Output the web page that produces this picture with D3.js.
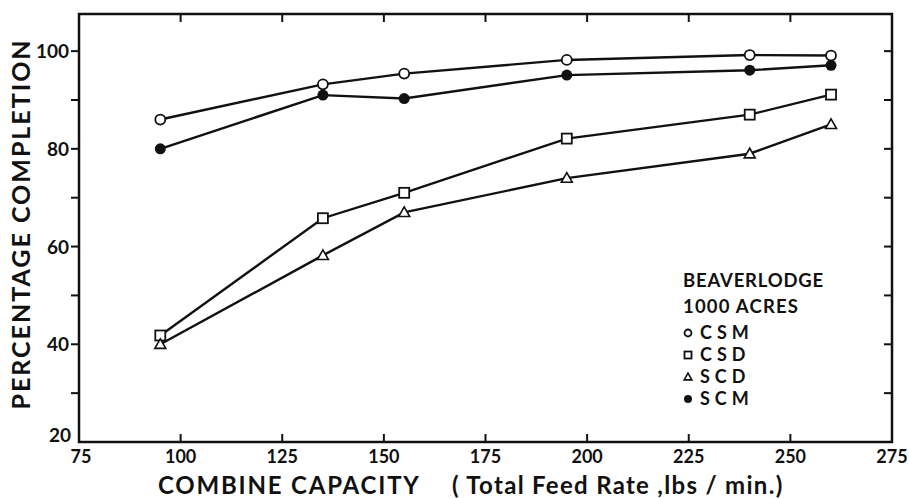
<!DOCTYPE html>
<html>
<head>
<meta charset="utf-8">
<script src="https://cdn.jsdelivr.net/npm/d3@7"></script>
<style>
  body { margin: 0; background: #fff; }
  svg text { font-family: Lato, "DejaVu Sans", sans-serif; font-weight: 700; fill: #111; }
</style>
</head>
<body>
<svg id="chart" width="909" height="498"></svg>
<script>
// feed rates (lbs/min) where each run was measured
let feedRates = [95, 135, 155, 195, 240, 260];

// percentage completion for each system
let csm = [86, 93.2, 95.4, 98.2, 99.2, 99.1];
let csd = [41.8, 65.8, 71, 82.1, 87, 91.1];
let scd = [40, 58.2, 67, 74, 79, 85];
let scm = [80, 91, 90.3, 95.1, 96.1, 97.1];

let seriesNames = ["CSM", "CSD", "SCD", "SCM"];
let seriesSymbols = ["openCircle", "square", "triangle", "filledCircle"];

let xTicks = [75, 100, 125, 150, 175, 200, 225, 250, 275];
let yTicks = [20, 40, 60, 80, 100];
let yMinor = [30, 50, 70, 90];

let series = [
  {name: seriesNames[0], sym: seriesSymbols[0], values: csm},
  {name: seriesNames[1], sym: seriesSymbols[1], values: csd},
  {name: seriesNames[2], sym: seriesSymbols[2], values: scd},
  {name: seriesNames[3], sym: seriesSymbols[3], values: scm}
];

let margin = {top: 14, right: 17, bottom: 56, left: 79},
    width = 909 - margin.left - margin.right,
    height = 498 - margin.top - margin.bottom;

let svg = d3.select("#chart")
  .append("g")
  .attr("transform", "translate(" + margin.left + "," + margin.top + ")");

let x = d3.scaleLinear().domain([75, 275]).range([0, width]);
let y = d3.scaleLinear().domain([20, 107.6]).range([height, 0]);

// frame
svg.append("rect")
  .attr("width", width).attr("height", height)
  .attr("fill", "none").attr("stroke", "#111").attr("stroke-width", 2.5);

let tickLen = 8;

// bottom ticks (inside)
svg.selectAll(".xtick-b")
  .data(xTicks.slice(1, -1))
  .enter().append("line")
  .attr("x1", d => x(d)).attr("x2", d => x(d))
  .attr("y1", height).attr("y2", height - tickLen)
  .attr("stroke", "#111").attr("stroke-width", 2);

// top ticks (inside)
svg.selectAll(".xtick-t")
  .data(xTicks.slice(1, -1))
  .enter().append("line")
  .attr("x1", d => x(d)).attr("x2", d => x(d))
  .attr("y1", 0).attr("y2", tickLen)
  .attr("stroke", "#111").attr("stroke-width", 2);

svg.selectAll(".xlabel")
  .data(xTicks)
  .enter().append("text")
  .attr("x", d => x(d) + (d === 75 ? 2 : 0))
  .attr("y", height + 21)
  .attr("text-anchor", "middle")
  .style("font-size", "18px")
  .text(d => d);

// left ticks (outside), right ticks (inside)
let allY = yTicks.slice(1).concat(yMinor);
svg.selectAll(".ytick-l")
  .data(allY)
  .enter().append("line")
  .attr("x1", 0).attr("x2", -tickLen)
  .attr("y1", d => y(d)).attr("y2", d => y(d))
  .attr("stroke", "#111").attr("stroke-width", 2);

svg.selectAll(".ytick-r")
  .data(allY)
  .enter().append("line")
  .attr("x1", width).attr("x2", width - tickLen)
  .attr("y1", d => y(d)).attr("y2", d => y(d))
  .attr("stroke", "#111").attr("stroke-width", 2);

svg.selectAll(".ylabel")
  .data(yTicks)
  .enter().append("text")
  .attr("x", d => d === 20 ? -8 : -10)
  .attr("y", d => y(d) + (d === 20 ? 0 : 7))
  .attr("text-anchor", "end")
  .style("font-size", "19px")
  .text(d => d);

// lines
let line = d3.line()
  .x((d, i) => x(feedRates[i]))
  .y(d => y(d));

svg.selectAll(".series")
  .data(series)
  .enter().append("path")
  .attr("d", d => line(d.values))
  .attr("fill", "none")
  .attr("stroke", "#111")
  .attr("stroke-width", 2.4);

// markers
let drawSymbol = function(g, sym, size) {
  if (sym === "openCircle") {
    g.append("circle").attr("r", size).attr("fill", "#fff").attr("stroke", "#111").attr("stroke-width", 1.8);
  } else if (sym === "filledCircle") {
    g.append("circle").attr("r", size + 0.5).attr("fill", "#111");
  } else if (sym === "square") {
    g.append("rect").attr("x", -size).attr("y", -size).attr("width", size * 2).attr("height", size * 2)
      .attr("fill", "#fff").attr("stroke", "#111").attr("stroke-width", 1.8);
  } else {
    let s = size * 1.1;
    g.append("path").attr("d", `M0,${-s} L${s},${s * 0.75} L${-s},${s * 0.75} Z`)
      .attr("fill", "#fff").attr("stroke", "#111").attr("stroke-width", 1.6);
  }
};

series.forEach(function(s) {
  s.values.forEach(function(v, i) {
    let g = svg.append("g").attr("transform", `translate(${x(feedRates[i])},${y(v)})`);
    drawSymbol(g, s.sym, 5);
  });
});

// legend
let legend = svg.append("g").attr("transform", "translate(" + (683 - margin.left) + "," + (287 - margin.top) + ")");
legend.append("text").attr("x", 0).attr("y", 0).style("font-size", "18.5px").style("letter-spacing", "0.8px").text("BEAVERLODGE");
legend.append("text").attr("x", 0).attr("y", 26).style("font-size", "18.5px").style("letter-spacing", "1.2px").text("1000 ACRES");

series.forEach(function(s, i) {
  let yy = 52 + i * 22;
  let g = legend.append("g").attr("transform", `translate(5,${yy - 6})`);
  drawSymbol(g, s.sym, 3.5);
  legend.append("text")
    .attr("x", 17).attr("y", yy)
    .style("font-size", "18px")
    .style("letter-spacing", "5px")
    .text(s.name);
});

// axis titles
svg.append("text")
  .attr("x", 158 - margin.left)
  .attr("y", 494 - margin.top)
  .style("font-size", "24px")
  .style("letter-spacing", "1.8px")
  .text("COMBINE CAPACITY");

svg.append("text")
  .attr("x", 452 - margin.left)
  .attr("y", 494 - margin.top)
  .style("font-size", "24px")
  .style("letter-spacing", "1.3px")
  .text("( Total Feed Rate ,lbs / min.)");

svg.append("text")
  .attr("transform", "translate(" + (30 - margin.left) + "," + (224 - margin.top) + ") rotate(-90)")
  .attr("text-anchor", "middle")
  .style("font-size", "25px")
  .style("letter-spacing", "2px")
  .text("PERCENTAGE  COMPLETION");
</script>
</body>
</html>
